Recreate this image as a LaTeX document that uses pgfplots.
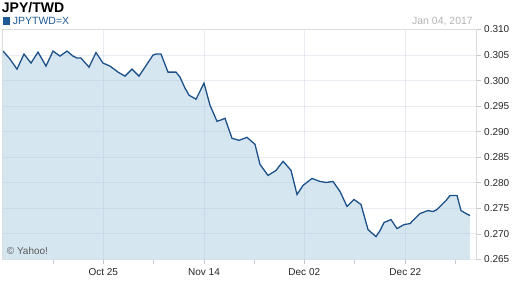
\documentclass[border=0pt]{standalone}
\usepackage{pgfplots}
\pgfplotsset{compat=1.18}
\usepackage{pgfplotstable}
\usepackage{fontspec}
\setmainfont{Liberation Sans}
\definecolor{linec}{HTML}{1C5189}
\definecolor{fillc}{HTML}{D6E6F1}
\definecolor{gridc}{HTML}{A8B8CF}
\definecolor{legc}{HTML}{1F5A96}
\definecolor{framec}{HTML}{DDDDDD}
\definecolor{axisc}{HTML}{C8C8C8}
\definecolor{datec}{HTML}{B4B4B4}
\pgfplotstableread{
x y
3 0.3058
10 0.3042
17 0.30225
24 0.30519
31 0.30343
38 0.30558
46 0.30284
53 0.30578
60 0.3048
67 0.30578
73 0.3048
77 0.30441
81 0.30441
89 0.30264
96 0.30549
103 0.30343
110 0.30284
118 0.30166
125 0.30088
132 0.30225
139 0.30088
147 0.30323
153 0.3050
156 0.30519
161 0.30519
168 0.30166
176 0.30166
180 0.30068
185 0.29852
189 0.29715
196 0.29636
204 0.2995
210 0.29518
217 0.29204
221 0.2923
225 0.29263
232 0.28871
239 0.28832
247 0.2889
255 0.28753
260 0.28361
268 0.28145
276 0.28243
283 0.2842
285 0.2838
291 0.28243
297 0.27772
303 0.27949
312 0.28086
320 0.28027
326 0.28007
333 0.28027
340 0.27831
347 0.27537
354 0.27674
361 0.27576
368 0.27085
376 0.26948
380 0.27066
384 0.27223
391 0.27281
397 0.27105
404 0.27183
410 0.27203
416 0.27321
420 0.27399
428 0.27458
433 0.27438
437 0.27478
441 0.27556
446 0.27654
450 0.27752
457 0.27752
461 0.27458
466 0.27399
470 0.2736
}\rates
\begin{document}
\begin{tikzpicture}[x=1bp,y=1bp]
\begin{axis}[
  set layers=standard,
  at={(2bp,28.5bp)}, anchor=south west,
  scale only axis, width=474.7bp, height=230bp,
  xmin=2, xmax=476.7, ymin=0.265, ymax=0.310,
  axis line style={draw=none},
  xtick={103.3,204,304.3,405.3},
  xticklabels={Oct 25,Nov 14,Dec 02,Dec 22},
  minor xtick={53,153.7,254.2,354.3,455.3},
  ytick={0.265,0.270,0.275,0.280,0.285,0.290,0.295,0.300,0.305,0.310},
  yticklabels={0.265,0.270,0.275,0.280,0.285,0.290,0.295,0.300,0.305,0.310},
  xtick pos=left, ytick pos=right, yticklabel pos=right,
  tick align=outside,
  major tick length=4bp, minor tick length=4bp,
  every tick/.style={axisc, line width=0.8bp},
  xmajorgrids, ymajorgrids,
  major grid style={gridc, opacity=0.25, line width=1bp},
  ticklabel style={font=\fontsize{10bp}{12bp}\selectfont, text=black!85},
  xticklabel style={yshift=-1.5bp},
  clip=true,
]
\addplot[on layer=axis background, draw=none, fill=fillc] table[x=x,y=y]{\rates} \closedcycle;
\addplot[linec, line width=1.3bp] table[x=x,y=y]{\rates};
\draw[framec, line width=1bp] (rel axis cs:0,0) -- (rel axis cs:0,1) -- (rel axis cs:1,1);
\draw[axisc, line width=1bp] (rel axis cs:1,0) -- (rel axis cs:1,1);
\end{axis}
\node[anchor=base west, inner sep=0pt, font=\bfseries\fontsize{14bp}{16bp}\selectfont] at (1.7,275.3) {JPY/TWD};
\fill[legc] (2.7,263) rectangle (10,270.7);
\node[anchor=base west, inner sep=0pt, text=legc, font=\fontsize{10.5bp}{12bp}\selectfont] at (12.7,263.7) {JPYTWD=X};
\node[anchor=base east, inner sep=0pt, text=datec, font=\fontsize{10.5bp}{12bp}\selectfont] at (473,264) {Jan 04, 2017};
\node[anchor=base west, inner sep=0pt, text=black!65, font=\fontsize{10bp}{12bp}\selectfont] at (6.7,34) {© Yahoo!};
\pgfresetboundingbox
\useasboundingbox (0,0) rectangle (512,288);
\end{tikzpicture}
\end{document}
